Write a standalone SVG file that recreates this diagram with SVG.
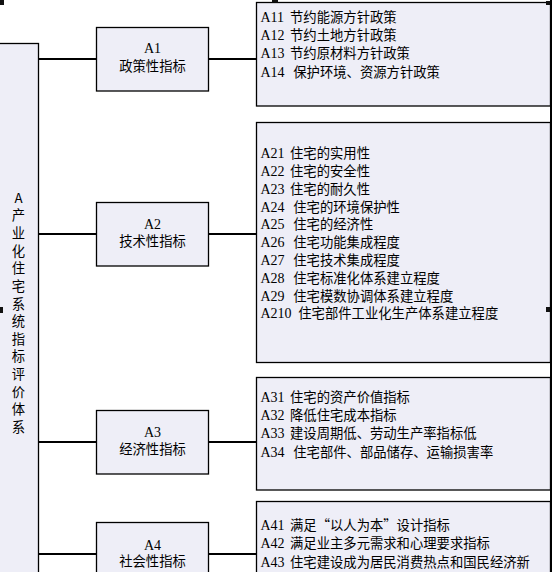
<svg xmlns="http://www.w3.org/2000/svg" width="552" height="572" viewBox="0 0 552 572">
<style>
.box{fill:#EEEEF7;stroke:#000;stroke-width:1.3}
.ln{stroke:#000;stroke-width:2.2;fill:none}
.t{font-family:"Liberation Serif","Noto Sans CJK SC",serif;font-size:14px;fill:#000}
.c{font-family:"Noto Sans CJK SC","Liberation Sans",sans-serif;font-size:13.33px;fill:#000}
.m{text-anchor:middle}
.h{fill:#111}
</style>
<rect width="552" height="572" fill="#fff"/>
<g id="connectors">
<line class="ln" x1="38" y1="59" x2="96" y2="59"/>
<line class="ln" x1="208" y1="59" x2="256" y2="59"/>
<line class="ln" x1="38" y1="234" x2="96" y2="234"/>
<line class="ln" x1="208" y1="234" x2="256" y2="234"/>
<line class="ln" x1="38" y1="442" x2="96" y2="442"/>
<line class="ln" x1="208" y1="442" x2="256" y2="442"/>
<line class="ln" x1="38" y1="554" x2="96" y2="554"/>
<line class="ln" x1="208" y1="554" x2="256" y2="554"/>
</g>
<g id="root">
<rect class="box" x="-1" y="43.5" width="39.5" height="540"/>
<g class="c m">
<text x="18.5" y="202.5">A</text>
<text x="18.5" y="220.2">产</text>
<text x="18.5" y="237.8">业</text>
<text x="18.5" y="255.5">化</text>
<text x="18.5" y="273.1">住</text>
<text x="18.5" y="290.8">宅</text>
<text x="18.5" y="308.5">系</text>
<text x="18.5" y="326.1">统</text>
<text x="18.5" y="343.8">指</text>
<text x="18.5" y="361.4">标</text>
<text x="18.5" y="379.1">评</text>
<text x="18.5" y="396.8">价</text>
<text x="18.5" y="414.4">体</text>
<text x="18.5" y="432.1">系</text>
</g>
</g>
<g id="A1">
<rect class="box" x="96.5" y="27.5" width="112" height="63.5"/>
<text class="t m" x="152.5" y="53">A1</text>
<text class="c m" x="152.5" y="70.7">政策性指标</text>
</g>
<g id="A2">
<rect class="box" x="96.5" y="202.5" width="112" height="63.5"/>
<text class="t m" x="152.5" y="229">A2</text>
<text class="c m" x="152.5" y="246">技术性指标</text>
</g>
<g id="A3">
<rect class="box" x="96.5" y="410.5" width="112" height="63.5"/>
<text class="t m" x="152.5" y="437.4">A3</text>
<text class="c m" x="152.5" y="454.3">经济性指标</text>
</g>
<g id="A4">
<rect class="box" x="96.5" y="522.5" width="112" height="63.5"/>
<text class="t m" x="152.5" y="549.5">A4</text>
<text class="c m" x="152.5" y="566">社会性指标</text>
</g>
<g id="A1-items">
<rect class="box" x="256.5" y="2.5" width="294" height="103.5"/>
<text class="t" x="260.5" y="21.7">A11<tspan class="c" x="290">节约能源方针政策</tspan></text>
<text class="t" x="260.5" y="40.3">A12<tspan class="c" x="290">节约土地方针政策</tspan></text>
<text class="t" x="260.5" y="58.3">A13<tspan class="c" x="290">节约原材料方针政策</tspan></text>
<text class="t" x="260.5" y="76.7">A14<tspan class="c" x="293.3">保护环境、资源方针政策</tspan></text>
</g>
<g id="A2-items">
<rect class="box" x="256.5" y="122.5" width="294" height="240"/>
<text class="t" x="260.5" y="158.3">A21<tspan class="c" x="290">住宅的实用性</tspan></text>
<text class="t" x="260.5" y="176.1">A22<tspan class="c" x="290">住宅的安全性</tspan></text>
<text class="t" x="260.5" y="193.9">A23<tspan class="c" x="290">住宅的耐久性</tspan></text>
<text class="t" x="260.5" y="211.6">A24<tspan class="c" x="293.3">住宅的环境保护性</tspan></text>
<text class="t" x="260.5" y="229.4">A25<tspan class="c" x="293.3">住宅的经济性</tspan></text>
<text class="t" x="260.5" y="247.2">A26<tspan class="c" x="293.3">住宅功能集成程度</tspan></text>
<text class="t" x="260.5" y="265">A27<tspan class="c" x="293.3">住宅技术集成程度</tspan></text>
<text class="t" x="260.5" y="282.8">A28<tspan class="c" x="293.3">住宅标准化体系建立程度</tspan></text>
<text class="t" x="260.5" y="300.5">A29<tspan class="c" x="293.3">住宅模数协调体系建立程度</tspan></text>
<text class="t" x="260.5" y="318.3">A210<tspan class="c" x="298.3">住宅部件工业化生产体系建立程度</tspan></text>
</g>
<g id="A3-items">
<rect class="box" x="256.5" y="377.5" width="294" height="112.5"/>
<text class="t" x="260.5" y="401.7">A31<tspan class="c" x="290">住宅的资产价值指标</tspan></text>
<text class="t" x="260.5" y="420">A32<tspan class="c" x="290">降低住宅成本指标</tspan></text>
<text class="t" x="260.5" y="438.3">A33<tspan class="c" x="290">建设周期低、劳动生产率指标低</tspan></text>
<text class="t" x="260.5" y="456.7">A34<tspan class="c" x="293.3">住宅部件、部品储存、运输损害率</tspan></text>
</g>
<g id="A4-items">
<rect class="box" x="256.5" y="501.5" width="294" height="90"/>
<text class="t" x="260.5" y="530">A41<tspan class="c" x="290">满足“以人为本”设计指标</tspan></text>
<text class="t" x="260.5" y="548.3">A42<tspan class="c" x="290">满足业主多元需求和心理要求指标</tspan></text>
<text class="t" x="260.5" y="566.7">A43<tspan class="c" x="290">住宅建设成为居民消费热点和国民经济新</tspan></text>
</g>
<g id="frame">
<line x1="551" y1="0" x2="551" y2="572" stroke="#000" stroke-width="2"/>
<rect class="h" x="0" y="0" width="4" height="5"/>
<rect class="h" x="272" y="0" width="6" height="2.5"/>
<rect class="h" x="546" y="1" width="4" height="4"/>
<rect class="h" x="546" y="307" width="4" height="5"/>
<rect class="h" x="0" y="307" width="3" height="6"/>
</g>
</svg>
